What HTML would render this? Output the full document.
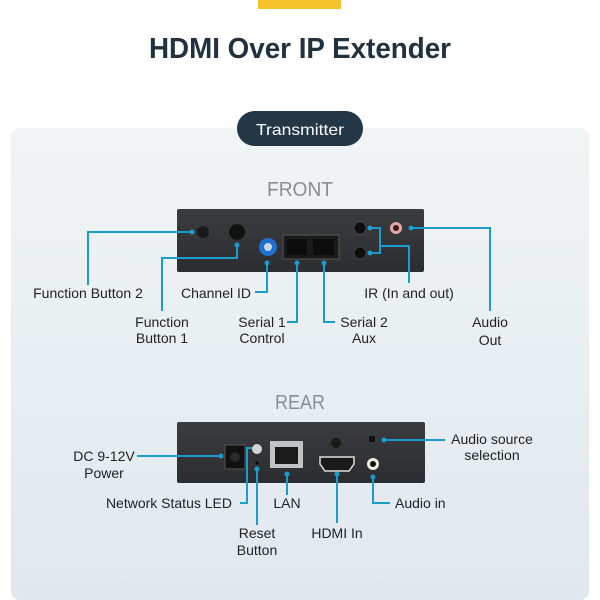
<!DOCTYPE html>
<html><head><meta charset="utf-8"><style>
html,body{margin:0;padding:0;background:#fff;}
svg{display:block;}
text{font-family:"Liberation Sans",sans-serif;}
</style></head><body>
<svg width="600" height="600" viewBox="0 0 600 600" xmlns="http://www.w3.org/2000/svg">
<defs>
<linearGradient id="pg" x1="0" y1="0" x2="0" y2="1">
<stop offset="0" stop-color="#f1f4f5"/><stop offset="1" stop-color="#e0e8ee"/>
</linearGradient>
<linearGradient id="dev" x1="0" y1="0" x2="0" y2="1">
<stop offset="0" stop-color="#3a3c3f"/><stop offset="1" stop-color="#2b2d30"/>
</linearGradient>
</defs>
<rect x="258" y="0" width="83" height="9" fill="#f5c22c"/>
<text x="300" y="58" text-anchor="middle" font-size="29" font-weight="bold" fill="#213140" textLength="302" lengthAdjust="spacingAndGlyphs">HDMI Over IP Extender</text>
<rect x="11" y="128" width="578" height="472" rx="9" fill="url(#pg)"/>
<rect x="237" y="111" width="126" height="35" rx="17.5" fill="#243746"/>
<text x="300" y="135" text-anchor="middle" font-size="16" fill="#fff" textLength="88" lengthAdjust="spacingAndGlyphs">Transmitter</text>
<text x="300" y="196" text-anchor="middle" font-size="20" fill="#8a8e91" textLength="66" lengthAdjust="spacingAndGlyphs">FRONT</text>
<text x="300" y="409" text-anchor="middle" font-size="20" fill="#8a8e91" textLength="50" lengthAdjust="spacingAndGlyphs">REAR</text>

<!-- FRONT device -->
<rect x="177" y="209" width="247" height="63" rx="2" fill="url(#dev)"/>
<circle cx="203" cy="232" r="6" fill="#18191a"/>
<circle cx="237" cy="232" r="8" fill="#111"/>
<circle cx="268" cy="247" r="9" fill="#1e6fd0"/>
<circle cx="268" cy="247" r="4" fill="#c9d6e4"/>
<rect x="283" y="235" width="56" height="24" fill="#1a1a1a" stroke="#555" stroke-width="1"/>
<rect x="287" y="239" width="20" height="16" fill="#0c0c0c"/>
<rect x="313" y="239" width="21" height="16" fill="#0c0c0c"/>
<circle cx="360" cy="228" r="6" fill="#0e0e0e" stroke="#444"/>
<circle cx="360" cy="253" r="6" fill="#0e0e0e" stroke="#444"/>
<circle cx="396" cy="228" r="6" fill="#e3a6a8"/>
<circle cx="396" cy="228" r="3" fill="#3a1a1a"/>

<!-- REAR device -->
<rect x="177" y="422" width="248" height="61" rx="2" fill="url(#dev)"/>
<rect x="225" y="445" width="20" height="24" fill="#111" stroke="#555"/>
<circle cx="235" cy="457" r="5" fill="#2a2a2a"/>
<circle cx="257" cy="449" r="5" fill="#cfd4d8"/>
<circle cx="257" cy="463" r="1.5" fill="#000"/>
<rect x="270" y="441" width="33" height="27" fill="#bfc3c6"/>
<rect x="275" y="447" width="23" height="17" fill="#1a1a1a"/>
<circle cx="336" cy="443" r="5" fill="#1a1a1a"/>
<path d="M320 457 H354 V464 L349 471 H325 L320 464Z" fill="#1a1a1a" stroke="#ddd" stroke-width="1.5"/>
<circle cx="373" cy="464" r="6" fill="#f0ede0"/>
<circle cx="373" cy="464" r="3" fill="#111"/>
<rect x="369" y="436" width="6" height="6" fill="#111"/>

<g stroke="#1a9ccf" stroke-width="2" fill="none">
<polyline points="192,232 88,232 88,285"/>
<polyline points="237,245 237,258 162,258 162,311"/>
<polyline points="267,263 267,292 255,292"/>
<polyline points="297,263 297,322 287,322"/>
<polyline points="324,263 324,322 335,322"/>
<polyline points="369,228 380,228 380,253 369,253"/>
<polyline points="380,246 409,246 409,283"/>
<polyline points="411,228 490,228 490,311"/>
<polyline points="221,456 137,456"/>
<polyline points="252,448 247,448 247,503 240,503"/>
<polyline points="257,469 257,525"/>
<polyline points="287,474 287,495"/>
<polyline points="337,474 337,523"/>
<polyline points="373,477 373,503 390,503"/>
<polyline points="384,440 445,440"/>
</g>
<g fill="#1a9ccf">
<circle cx="192" cy="232" r="2.5"/><circle cx="237" cy="245" r="2.5"/>
<circle cx="267" cy="263" r="2.5"/><circle cx="297" cy="263" r="2.5"/>
<circle cx="324" cy="263" r="2.5"/><circle cx="370" cy="228" r="2.5"/>
<circle cx="370" cy="253" r="2.5"/><circle cx="411" cy="228" r="2.5"/>
<circle cx="221" cy="456" r="2.5"/><circle cx="257" cy="469" r="2.5"/>
<circle cx="287" cy="474" r="2.5"/><circle cx="337" cy="474" r="2.5"/>
<circle cx="373" cy="477" r="2.5"/><circle cx="384" cy="440" r="2.5"/>
</g>

<g font-size="14" fill="#222">
<text x="88" y="298" text-anchor="middle">Function Button 2</text>
<text x="162" y="327" text-anchor="middle">Function</text>
<text x="162" y="343" text-anchor="middle">Button 1</text>
<text x="251" y="298" text-anchor="end">Channel ID</text>
<text x="262" y="327" text-anchor="middle">Serial 1</text>
<text x="262" y="343" text-anchor="middle">Control</text>
<text x="364" y="327" text-anchor="middle">Serial 2</text>
<text x="364" y="343" text-anchor="middle">Aux</text>
<text x="409" y="298" text-anchor="middle">IR (In and out)</text>
<text x="490" y="327" text-anchor="middle">Audio</text>
<text x="490" y="345" text-anchor="middle">Out</text>
<text x="104" y="461" text-anchor="middle">DC 9-12V</text>
<text x="104" y="478" text-anchor="middle">Power</text>
<text x="232" y="508" text-anchor="end">Network Status LED</text>
<text x="287" y="508" text-anchor="middle">LAN</text>
<text x="395" y="508">Audio in</text>
<text x="257" y="538" text-anchor="middle">Reset</text>
<text x="257" y="555" text-anchor="middle">Button</text>
<text x="337" y="538" text-anchor="middle">HDMI In</text>
<text x="492" y="444" text-anchor="middle">Audio source</text>
<text x="492" y="460" text-anchor="middle">selection</text>
</g>
</svg>
</body></html>
